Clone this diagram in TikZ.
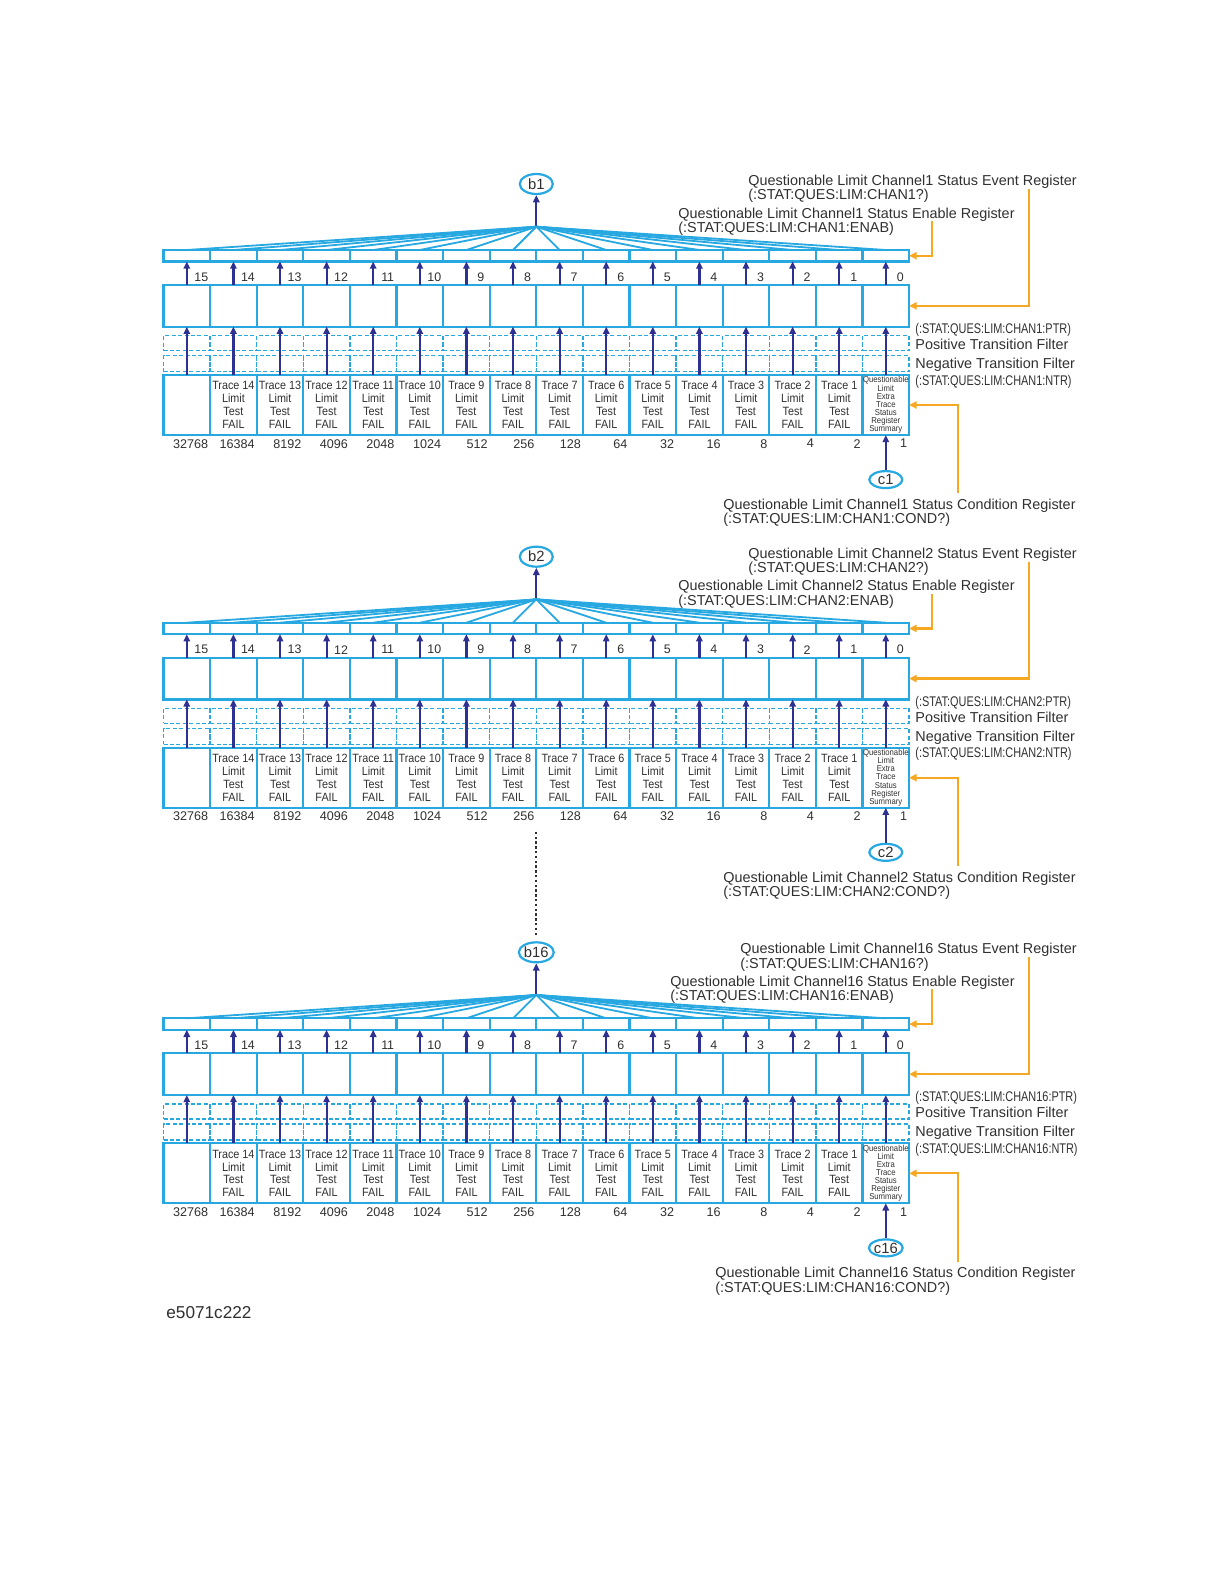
\documentclass[tikz,border=0pt]{standalone}
\usepackage{fontspec}
\setmainfont{Liberation Sans}
\newfontfamily\condfont[FakeStretch=0.9]{Liberation Sans}
\newfontfamily\narrowfont[FakeStretch=0.78]{Liberation Sans}
\usetikzlibrary{positioning,arrows.meta,shapes.geometric}
\definecolor{regblue}{HTML}{27A8E0}
\definecolor{bitnavy}{HTML}{2E3192}
\definecolor{maskorange}{HTML}{F7A823}
\definecolor{labelgray}{HTML}{303030}
\newcommand\tracefont{\condfont\fontsize{6}{6.4}\selectfont}
\newcommand\sumfont{\condfont\fontsize{4.3}{4.05}\selectfont}
\newcommand\labelfont{\fontsize{7.2}{7.15}\selectfont}
\tikzset{
  regcell/.style={draw=regblue, line width=1.1pt, minimum width=23.3pt, inner sep=0pt, outer sep=0pt},
  filtcell/.style={draw=regblue, line width=0.7pt, dash pattern=on 2pt off 1.2pt,
    minimum width=23.3pt, inner sep=0pt, outer sep=0pt},
  condcell/.style={align=center, font=\cellfont, text=labelgray},
  bitarrow/.style={draw=bitnavy, line width=1.1pt, -{Triangle[length=3.6pt,width=3.2pt]}},
  fanline/.style={draw=regblue, line width=0.9pt},
  setarrow/.style={draw=maskorange, line width=1.1pt, -{Triangle[length=3.8pt,width=3.6pt]}},
  portoval/.style={ellipse, draw=regblue, line width=1.1pt, minimum width=16.5pt,
    minimum height=10pt, inner sep=0pt, font=\fontsize{7.4}{8}\selectfont},
  reglabel/.style={align=left, inner sep=0pt, text=labelgray, font=\labelfont},
  bitnum/.style={inner sep=0pt, font=\fontsize{6.2}{7}\selectfont},
  weight/.style={inner sep=0pt, anchor=north east, font=\fontsize{6.3}{7}\selectfont},
  filtname/.style={inner sep=0pt, anchor=base west, text=labelgray, font=\labelfont},
  filtcmd/.style={inner sep=0pt, anchor=base west, text=labelgray, font=\narrowfont\fontsize{7}{8}\selectfont},
}
\begin{document}
\begin{tikzpicture}[x=0.5pt, y=-0.5pt, text=labelgray]
\useasboundingbox (0,0) rectangle (1224,1584);
\foreach \ch/\off in {1/0, 2/372.7, 16/768.3} {
\begin{scope}[shift={(0,\off)}]
  % summary bit and fan-in
  \coordinate (ap\ch) at (536.3,226.7);
  \node[portoval, above=15.8pt of ap\ch] (b\ch) {b\ch};
  \draw[bitarrow] (ap\ch) -- (b\ch);
  % one column per bit, bit 15 on the left
  \foreach \bit/\w in {15/32768, 14/16384, 13/8192, 12/4096, 11/2048, 10/1024, 9/512, 8/256,
                       7/128, 6/64, 5/32, 4/16, 3/8, 2/4, 1/2, 0/1} {
    \pgfmathsetmacro\cx{163.5+(15.5-\bit)*46.6}
    \ifnum\bit=0 \def\celltext{Questionable\\Limit\\Extra\\Trace\\Status\\Register\\Summary}\def\cellfont{\sumfont}%
    \else\ifnum\bit=15 \def\celltext{}\def\cellfont{\tracefont}%
    \else\def\celltext{Trace \bit\\Limit\\Test\\FAIL}\def\cellfont{\tracefont}\fi\fi
    \node[regcell, minimum height=5.75pt] (en\ch-\bit) at (\cx,255.75) {};
    \node[regcell, minimum height=20.85pt] (ev\ch-\bit) at (\cx,305.85) {};
    \node[filtcell, minimum height=7.5pt] (pt\ch-\bit) at (\cx,343.2) {};
    \node[filtcell, minimum height=8pt] (nt\ch-\bit) at (\cx,363.7) {};
    \node[regcell, condcell, minimum height=30pt] (co\ch-\bit) at (\cx,405) {\celltext};
    \node[bitnum] (bn\ch-\bit) at (\cx+14.5,277) {\bit};
    \node[weight] (wt\ch-\bit) at ([xshift=-0.8pt,yshift=-1.9pt]co\ch-\bit.south east) {\w};
    \draw[fanline] (ap\ch) -- (en\ch-\bit.north);
    \draw[bitarrow] (ev\ch-\bit.north) -- (en\ch-\bit.south);
    \draw[bitarrow] (co\ch-\bit.north) -- (ev\ch-\bit.south);
  }
  \node[portoval, minimum height=8.5pt, below=17.5pt of co\ch-0] (c\ch) {c\ch};
  \draw[bitarrow] (c\ch) -- (co\ch-0.south);
  % register names
  \node[reglabel, anchor=north east] (evlbl\ch) at (1077,174.6)
    {Questionable Limit Channel\ch\ Status Event Register\\(:STAT:QUES:LIM:CHAN\ch?)};
  \node[reglabel, anchor=north east] (enlbl\ch) at (1015,207.3)
    {Questionable Limit Channel\ch\ Status Enable Register\\(:STAT:QUES:LIM:CHAN\ch:ENAB)};
  \node[reglabel, anchor=north east] (colbl\ch) at (1076,498.6)
    {Questionable Limit Channel\ch\ Status Condition Register\\(:STAT:QUES:LIM:CHAN\ch:COND?)};
  \node[filtcmd] (ptrcmd\ch) at (915,333.3) {(:STAT:QUES:LIM:CHAN\ch:PTR)};
  \node[filtname] (ptrname\ch) at (915,349.5) {Positive Transition Filter};
  \node[filtname] (ntrname\ch) at (915,368.5) {Negative Transition Filter};
  \node[filtcmd] (ntrcmd\ch) at (915,385) {(:STAT:QUES:LIM:CHAN\ch:NTR)};
  % access arrows
  \coordinate (evtap\ch) at (1029.3,189);
  \coordinate (entap\ch) at (931.7,221);
  \coordinate (cotap\ch) at (958.3,493.3);
  \draw[setarrow] (evtap\ch) |- (ev\ch-0.east);
  \draw[setarrow] (entap\ch) |- (en\ch-0.east);
  \draw[setarrow] (cotap\ch) |- (co\ch-0.east);
\end{scope}
}
\coordinate (gap) at (536.3,831.7);
\draw[draw=labelgray, line width=0.9pt, dash pattern=on 1.2pt off 1.2pt, shorten >=2.5pt] (gap) -- (b16);
\node[inner sep=0pt, anchor=base west, font=\fontsize{8.6}{10}\selectfont] (figid) at (166,1318) {e5071c222};
\end{tikzpicture}
\end{document}
